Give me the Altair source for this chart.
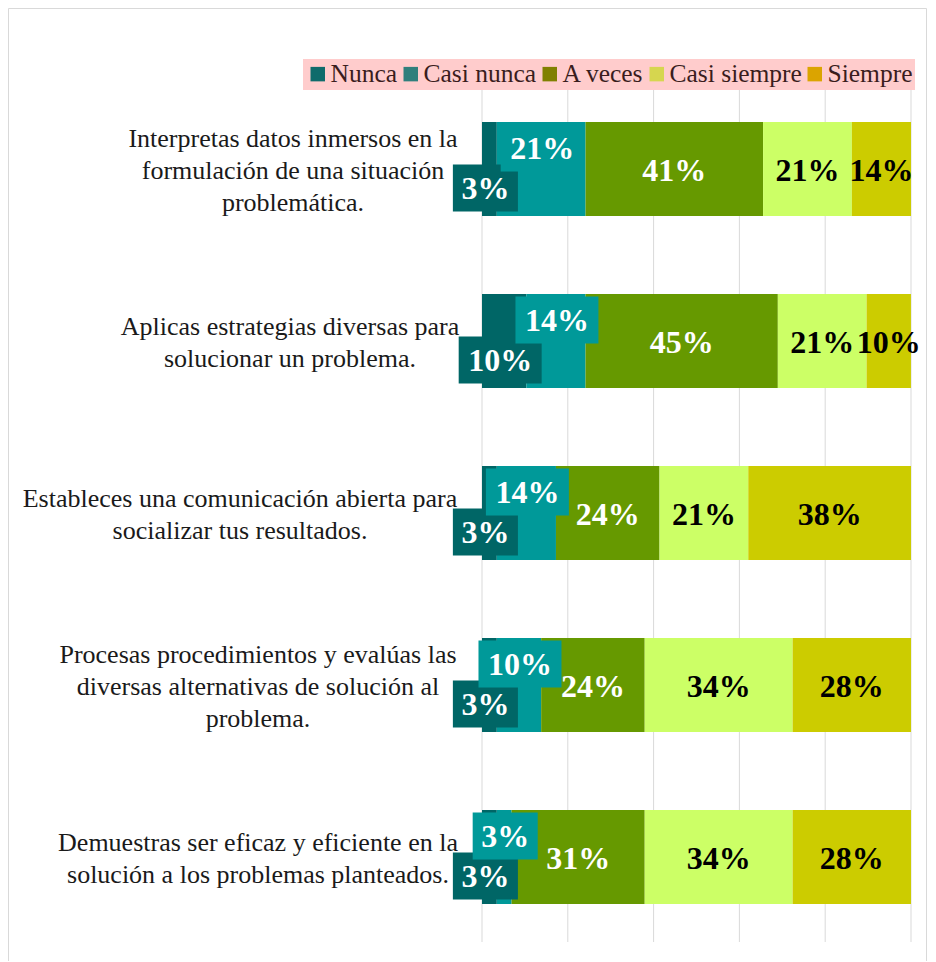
import altair as alt
import pandas as pd

# ---------------- data ----------------
categories = [
    "Interpretas datos inmersos en la formulación de una situación problemática.",
    "Aplicas estrategias diversas para solucionar un problema.",
    "Estableces una comunicación abierta para socializar tus resultados.",
    "Procesas procedimientos y evalúas las diversas alternativas de solución al problema.",
    "Demuestras ser eficaz y eficiente en la solución a los problemas planteados.",
]
wrapped = [
    ["Interpretas datos inmersos en la", "formulación de una situación", "problemática."],
    ["Aplicas estrategias diversas para", "solucionar un problema."],
    ["Estableces una comunicación abierta para", "socializar tus resultados."],
    ["Procesas procedimientos y evalúas las", "diversas alternativas de solución al", "problema."],
    ["Demuestras ser eficaz y eficiente en la", "solución a los problemas planteados."],
]
series = ["Nunca", "Casi nunca", "A veces", "Casi siempre", "Siempre"]

nunca = [3.45, 10.34, 3.45, 3.45, 3.45]
casi_nunca = [20.69, 13.79, 13.79, 10.34, 3.45]
a_veces = [41.38, 44.83, 24.14, 24.14, 31.03]
casi_siempre = [20.69, 20.69, 20.69, 34.48, 34.48]
siempre = [13.79, 10.34, 37.93, 27.59, 27.59]

grid_values = [0, 20, 40, 60, 80, 100]

bar_colors = ["#006666", "#009999", "#669900", "#CCFF66", "#CCCC00"]
legend_colors = ["#0f6b6b", "#2f7f7c", "#808000", "#d6d64f", "#dba400"]

# style: distance from the plot's left edge to the centre of each wrapped label block
label_pads = [189, 192, 242, 224, 224]

values = [nunca, casi_nunca, a_veces, casi_siempre, siempre]
rows = []
for si, (s, vals) in enumerate(zip(series, values)):
    for c, v in zip(categories, vals):
        rows.append({"cat": c, "serie": s, "value": v, "order": si})
df = pd.DataFrame(rows)

label_df = pd.DataFrame({"cat": categories, "txt": ["|".join(w) for w in wrapped]})

serif = "Liberation Serif"

yscale = alt.Scale(domain=categories, paddingInner=0.453, paddingOuter=0.2265)
y_plain = alt.Y("cat:N", scale=yscale, axis=None, sort=categories)

xscale = alt.Scale(domain=[0, 100], nice=False, zero=True)

# bar colour scale: data-driven domain (sorted), so it is not merged with the legend's fill scale
color_enc = alt.Color("serie:N", sort=series, scale=alt.Scale(range=bar_colors), legend=None)

grid = alt.Chart(pd.DataFrame({"g": grid_values})).mark_rule(
    color="#d9d9d9", strokeWidth=1
).encode(
    x=alt.X("g:Q", scale=xscale, axis=None),
    y=alt.value(5), y2=alt.value(859),
)

base = (
    alt.Chart(df)
    .transform_stack(stack="value", groupby=["cat"], as_=["x0", "x1"],
                     sort=[alt.SortField("order", order="ascending")])
    .transform_calculate(
        mid="(datum.x0 + datum.x1) / 2",
        label="format(datum.value, '.0f') + '%'",
        nd="length(format(datum.value, '.0f'))",
    )
)

bars = base.mark_bar().encode(
    x=alt.X("x0:Q", scale=xscale, axis=None),
    x2="x1:Q",
    y=y_plain,
    color=color_enc,
)

box1 = "M-0.707,-0.511H0.707V0.511H-0.707Z"
box2 = "M-0.902,-0.511H0.902V0.511H-0.902Z"
shape_enc = alt.Shape("nd:N", scale=alt.Scale(domain=[1, 2], range=[box1, box2]), legend=None)


def callout(serie, dx, dy):
    sub = base.transform_filter(alt.datum.serie == serie)
    boxes = sub.mark_point(filled=True, opacity=1, size=8464, strokeWidth=0,
                           xOffset=dx, yOffset=dy).encode(
        x=alt.X("mid:Q", scale=xscale, axis=None),
        y=y_plain,
        color=color_enc,
        shape=shape_enc,
    )
    txt = sub.mark_text(font=serif, fontWeight="bold", fontSize=32, color="white",
                        baseline="middle", align="center", xOffset=dx, yOffset=dy + 1).encode(
        x=alt.X("mid:Q", scale=xscale, axis=None),
        y=y_plain,
        text="label:N",
    )
    return boxes + txt


nunca_lbl = callout("Nunca", -4, 19)
casi_nunca_lbl = callout("Casi nunca", 1, -21)

main_lbl = base.transform_filter(
    alt.FieldOneOfPredicate(field="serie", oneOf=["A veces", "Casi siempre", "Siempre"])
).mark_text(font=serif, fontWeight="bold", fontSize=32, baseline="middle", align="center", dy=2).encode(
    x=alt.X("mid:Q", scale=xscale, axis=None),
    y=y_plain,
    text="label:N",
    color=alt.condition(alt.datum.serie == "A veces", alt.value("white"), alt.value("black")),
)

# category labels: wrapped, centred lines (as in the original)
cat_layers = []
for c, w, p in zip(categories, wrapped, label_pads):
    cat_layers.append(
        alt.Chart(label_df)
        .transform_filter(alt.datum.cat == c)
        .mark_text(font=serif, fontSize=26, color="#1a1a1a", align="center",
                   baseline="middle", lineBreak="|", lineHeight=32,
                   dy=2 - 16 * (len(w) - 1))
        .encode(x=alt.value(-p), y=y_plain, text="txt:N")
    )

legend_layer = alt.Chart(pd.DataFrame({"serie": series})).mark_square(size=0.01, strokeWidth=0).encode(
    fill=alt.Fill(
        "serie:N",
        scale=alt.Scale(domain=series, range=legend_colors),
        legend=alt.Legend(
            orient="none", legendX=-179, legendY=-24, direction="horizontal", columns=5,
            title=None, symbolType="square", symbolSize=210, symbolStrokeWidth=0,
            symbolOpacity=1, labelFont=serif, labelFontSize=25.5, labelColor="#3a1d1d",
            labelLimit=400, labelOffset=0, columnPadding=0, padding=2,
            fillColor="#FFCCCC",
        ),
    )
)

frame_df = pd.DataFrame({"k": [0]})
frame_left = alt.Chart(frame_df).mark_rule(color="#d9d9d9", strokeWidth=1).encode(
    x=alt.value(-473.5), y=alt.value(-74.5), y2=alt.value(900))
frame_right = alt.Chart(frame_df).mark_rule(color="#d9d9d9", strokeWidth=1).encode(
    x=alt.value(444.5), y=alt.value(-74.5), y2=alt.value(900))
frame_top = alt.Chart(frame_df).mark_rule(color="#d9d9d9", strokeWidth=1).encode(
    x=alt.value(-473.5), x2=alt.value(444.5), y=alt.value(-74.5))

chart = (
    alt.layer(frame_left, frame_right, frame_top, grid, bars, nunca_lbl, casi_nunca_lbl,
              main_lbl, *cat_layers, legend_layer)
    .properties(
        width=429, height=860,
        autosize=alt.AutoSizeParams(type="none"),
        padding={"left": 474, "top": 75, "right": 17, "bottom": 18},
        background="white",
    )
    .configure_view(strokeWidth=0)
)

chart.save("out.html", embed_options={"renderer": "svg", "actions": False})
